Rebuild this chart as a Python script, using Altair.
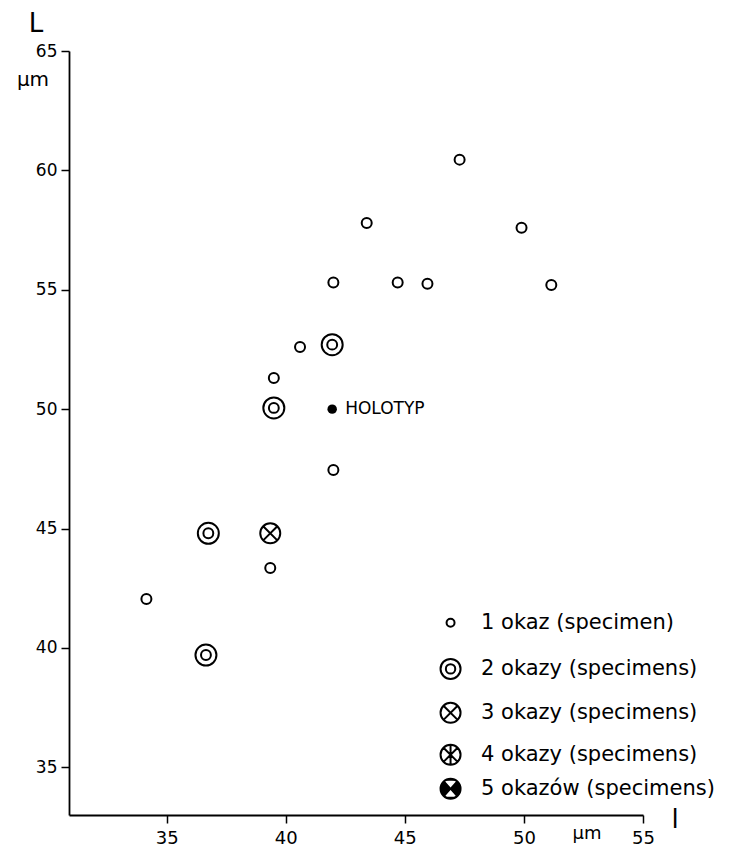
import altair as alt
import pandas as pd

# ---- data ----
one_x = [34.15, 39.35, 39.5, 40.6, 42.0, 42.0, 43.4, 44.7, 45.95, 47.3, 49.9, 51.15]
one_y = [42.05, 43.35, 51.3, 52.6, 47.45, 55.3, 57.8, 55.3, 55.25, 60.45, 57.6, 55.2]
two_x = [36.65, 36.75, 39.5, 41.95]
two_y = [39.7, 44.8, 50.05, 52.7]
three_x = [39.35]
three_y = [44.8]
holo_x = [41.95]
holo_y = [50.0]
holo_label = ["HOLOTYP"]

legend_kind = ["1", "2", "3", "4", "5"]
legend_text = ["1 okaz (specimen)", "2 okazy (specimens)", "3 okazy (specimens)",
               "4 okazy (specimens)", "5 okazów (specimens)"]
legend_sym_x = [46.92] * 5
legend_txt_x = [48.2] * 5
legend_y = [41.05, 39.12, 37.28, 35.52, 34.1]

x_ticks = [35, 40, 45, 50, 55]
y_ticks = [35, 40, 45, 50, 55, 60, 65]
x_domain = [30.9, 55]
y_domain = [33, 65]

FONT = "DejaVu Sans"

# ---- symbol paths (unit coordinates) ----
CIRCLE = "M1,0A1,1 0 1,1 -1,0A1,1 0 1,1 1,0Z"
INNER = "M0.47,0A0.47,0.47 0 1,1 -0.47,0A0.47,0.47 0 1,1 0.47,0Z"
XCROSS = "M-0.707,-0.707L0.707,0.707M-0.707,0.707L0.707,-0.707"
VERT = "M0,-1L0,1"
WEDGES = "M-0.6,-0.8L0,-0.12L0.6,-0.8Z M-0.6,0.8L0,0.12L0.6,0.8Z"

one_df = pd.DataFrame({"x": one_x, "y": one_y})
two_df = pd.DataFrame({"x": two_x, "y": two_y})
three_df = pd.DataFrame({"x": three_x, "y": three_y})
holo_df = pd.DataFrame({"x": holo_x, "y": holo_y, "t": holo_label})
leg_df = pd.DataFrame({"k": legend_kind, "sx": legend_sym_x, "tx": legend_txt_x,
                       "y": legend_y, "t": legend_text})

xs = alt.Scale(domain=x_domain, zero=False, nice=False)
ys = alt.Scale(domain=y_domain, zero=False, nice=False)

X = alt.X("x:Q", scale=xs, axis=alt.Axis(values=x_ticks, title=None, grid=False,
          domainColor="black", domainWidth=1.8, tickColor="black", tickWidth=1.5,
          tickSize=8, labelFont=FONT, labelFontSize=18, labelColor="black",
          labelPadding=6, labelFlush=False))
Y = alt.Y("y:Q", scale=ys, axis=alt.Axis(values=y_ticks, title=None, grid=False,
          domainColor="black", domainWidth=1.8, tickColor="black", tickWidth=1.5,
          tickSize=8, labelFont=FONT, labelFontSize=17, labelColor="black",
          labelPadding=4, labelFlush=False))


def sym(df, path, size, xf="x", filled=False, color="black", sw=2.0):
    m = alt.Chart(df).mark_point(shape=path, size=size, filled=filled,
                                 color=color, strokeWidth=sw, opacity=1)
    return m.encode(x=alt.X(f"{xf}:Q", scale=xs), y=alt.Y("y:Q", scale=ys))


base = alt.Chart(one_df).mark_point(shape=CIRCLE, size=100, color="black",
                                    strokeWidth=2.0, opacity=1).encode(x=X, y=Y)

layers = [base]
layers.append(sym(two_df, CIRCLE + " " + INNER, 441))
layers.append(sym(three_df, CIRCLE + " " + XCROSS, 400))
layers.append(sym(holo_df, "circle", 90, filled=True))
layers.append(alt.Chart(holo_df).mark_text(align="left", baseline="middle", dx=13,
              font=FONT, fontSize=17, color="black").encode(
              x=alt.X("x:Q", scale=xs), y=alt.Y("y:Q", scale=ys), text="t:N"))

# legend
l1 = leg_df[leg_df.k == "1"]
l2 = leg_df[leg_df.k == "2"]
l3 = leg_df[leg_df.k == "3"]
l4 = leg_df[leg_df.k == "4"]
l5 = leg_df[leg_df.k == "5"]
layers.append(sym(l1, CIRCLE, 64, xf="sx"))
layers.append(sym(l2, CIRCLE + " " + INNER, 400, xf="sx"))
layers.append(sym(l3, CIRCLE + " " + XCROSS, 400, xf="sx"))
layers.append(sym(l4, CIRCLE + " " + XCROSS + " " + VERT, 400, xf="sx"))
layers.append(sym(l5, CIRCLE, 400, xf="sx", filled=True))
layers.append(sym(l5, WEDGES, 400, xf="sx", filled=True, color="white", sw=0))
layers.append(sym(l5, CIRCLE, 400, xf="sx"))
layers.append(alt.Chart(leg_df).mark_text(align="left", baseline="middle", font=FONT,
              fontSize=21, color="black").encode(
              x=alt.X("tx:Q", scale=xs), y=alt.Y("y:Q", scale=ys), text="t:N"))

# axis annotations
def note(txt, px, py, size, baseline="middle"):
    return alt.Chart(one_df.head(1)).mark_text(text=txt, font=FONT, fontSize=size,
                                               color="black", align="center",
                                               baseline=baseline).encode(
        x=alt.value(px), y=alt.value(py))

layers.append(note("L", -33, -19, 26, baseline="alphabetic"))
layers.append(note("μm", -36, 29, 20))
layers.append(note("μm", 518, 788, 18, baseline="alphabetic"))
layers.append(note("l", 606, 777, 26, baseline="alphabetic"))

chart = alt.layer(*layers).properties(
    width=574, height=764,
    background="white",
    autosize=alt.AutoSizeParams(type="none"),
    padding={"left": 61, "top": 43, "right": 95, "bottom": 33},
).configure_view(strokeWidth=0)

chart.save("out.html", embed_options={"renderer": "svg", "actions": False})
